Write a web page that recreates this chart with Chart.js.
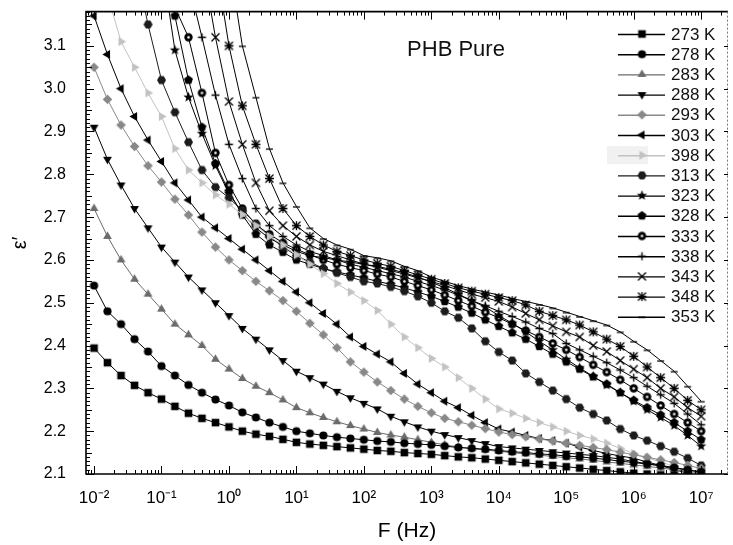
<!DOCTYPE html>
<html>
<head>
<meta charset="utf-8">
<script src="https://cdn.jsdelivr.net/npm/chart.js@4.4.1/dist/chart.umd.min.js"></script>
<style>
  body { margin: 0; background: #fff; }
  #wrap { width: 733px; height: 545px; }
</style>
</head>
<body>
<div id="wrap"><canvas id="eps-chart"></canvas></div>
<script>
// Frequencies (Hz), shared by every series.
const freqs = [
  0.01, 0.0158, 0.0251, 0.0398, 0.0631,
  0.1, 0.158, 0.251, 0.398, 0.631,
  1, 1.58, 2.51, 3.98, 6.31,
  10, 15.8, 25.1, 39.8, 63.1,
  100, 158, 251, 398, 631,
  1e3, 1580, 2510, 3980, 6310,
  1e4, 15800, 25100, 39800, 63100,
  1e5, 158000, 251000, 398000, 631000,
  1e6, 1.58e6, 2.51e6, 3.98e6, 6.31e6,
  1e7,
];

// Real permittivity per temperature.
const eps273 = [
  2.394, 2.36, 2.33, 2.307, 2.29, 2.275, 2.258, 2.242, 2.23, 2.22,
  2.21, 2.2, 2.193, 2.188, 2.181, 2.174, 2.17, 2.167, 2.164, 2.161,
  2.158, 2.155, 2.153, 2.15, 2.148, 2.146, 2.143, 2.14, 2.138, 2.135,
  2.132, 2.129, 2.126, 2.123, 2.12, 2.117, 2.114, 2.111, 2.108, 2.105,
  2.102, 2.1, 2.098, 2.097, 2.096, 2.095,
];
const eps278 = [
  2.54, 2.48, 2.45, 2.415, 2.386, 2.352, 2.33, 2.308, 2.29, 2.274,
  2.26, 2.244, 2.232, 2.22, 2.21, 2.2, 2.195, 2.19, 2.186, 2.183,
  2.18, 2.177, 2.175, 2.172, 2.17, 2.168, 2.165, 2.162, 2.16, 2.158,
  2.155, 2.152, 2.15, 2.147, 2.145, 2.142, 2.14, 2.137, 2.134, 2.13,
  2.127, 2.123, 2.12, 2.115, 2.11, 2.105,
];
const eps283 = [
  2.72, 2.655, 2.6, 2.555, 2.52, 2.485, 2.45, 2.425, 2.4, 2.368,
  2.345, 2.323, 2.305, 2.29, 2.273, 2.255, 2.243, 2.232, 2.222, 2.213,
  2.205, 2.197, 2.191, 2.186, 2.18, 2.174, 2.168, 2.163, 2.159, 2.156,
  2.153, 2.15, 2.147, 2.144, 2.141, 2.138, 2.135, 2.132, 2.128, 2.125,
  2.121, 2.118, 2.114, 2.11, 2.106, 2.102,
];
const eps288 = [
  2.91, 2.835, 2.775, 2.72, 2.675, 2.63, 2.595, 2.56, 2.53, 2.5,
  2.47, 2.44, 2.415, 2.39, 2.365, 2.34, 2.325, 2.31, 2.293, 2.278,
  2.265, 2.252, 2.235, 2.222, 2.21, 2.2, 2.192, 2.185, 2.178, 2.171,
  2.164, 2.161, 2.158, 2.155, 2.152, 2.149, 2.146, 2.143, 2.139, 2.135,
  2.129, 2.124, 2.119, 2.114, 2.109, 2.104,
];
const eps293 = [
  3.05, 2.975, 2.915, 2.865, 2.82, 2.782, 2.742, 2.705, 2.665, 2.63,
  2.6, 2.575, 2.55, 2.528, 2.505, 2.48, 2.452, 2.425, 2.395, 2.362,
  2.338, 2.315, 2.295, 2.275, 2.258, 2.243, 2.23, 2.222, 2.214, 2.206,
  2.198, 2.192, 2.187, 2.182, 2.177, 2.172, 2.167, 2.162, 2.157, 2.151,
  2.145, 2.139, 2.133, 2.127, 2.12, 2.113,
];
const eps303 = [
  3.17, 3.08, 3.0, 2.935, 2.88, 2.83, 2.78, 2.74, 2.7, 2.675,
  2.65, 2.625, 2.6, 2.575, 2.55, 2.525, 2.5, 2.475, 2.45, 2.42,
  2.398, 2.38, 2.362, 2.335, 2.31, 2.29, 2.27, 2.255, 2.237, 2.22,
  2.205, 2.198, 2.19, 2.183, 2.178, 2.172, 2.163, 2.155, 2.148, 2.142,
  2.137, 2.128, 2.12, 2.11, 2.102, 2.095,
];
const eps398 = [
  null, 3.22, 3.11, 3.05, 2.99, 2.935, 2.86, 2.81, 2.78, 2.752,
  2.73, 2.706, 2.68, 2.655, 2.635, 2.612, 2.59, 2.568, 2.545, 2.525,
  2.505, 2.482, 2.45, 2.42, 2.395, 2.37, 2.35, 2.325, 2.3, 2.275,
  2.252, 2.242, 2.23, 2.22, 2.21, 2.2, 2.19, 2.182, 2.172, 2.16,
  2.148, 2.138, 2.128, 2.118, 2.103, 2.092,
];
const eps313 = [
  null, null, null, 3.3, 3.15, 3.02, 2.945, 2.875, 2.81, 2.77,
  2.745, 2.715, 2.685, 2.655, 2.63, 2.61, 2.595, 2.58, 2.57, 2.56,
  2.55, 2.545, 2.537, 2.527, 2.515, 2.5, 2.48, 2.465, 2.44, 2.41,
  2.385, 2.365, 2.335, 2.315, 2.295, 2.275, 2.255, 2.24, 2.225, 2.205,
  2.19, 2.178, 2.165, 2.152, 2.137, 2.12,
];
const eps323 = [
  null, null, null, null, null, 3.3, 3.09, 2.98, 2.895, 2.82,
  2.755, 2.71, 2.675, 2.65, 2.635, 2.62, 2.61, 2.605, 2.6, 2.595,
  2.59, 2.585, 2.578, 2.57, 2.56, 2.548, 2.535, 2.52, 2.505, 2.49,
  2.47, 2.452, 2.432, 2.41, 2.39, 2.368, 2.348, 2.328, 2.308, 2.29,
  2.27, 2.25, 2.232, 2.213, 2.19, 2.165,
];
const eps328 = [
  null, null, null, null, null, 3.35, 3.17, 3.02, 2.91, 2.825,
  2.76, 2.705, 2.66, 2.635, 2.618, 2.6, 2.59, 2.58, 2.572, 2.565,
  2.558, 2.55, 2.543, 2.535, 2.525, 2.515, 2.503, 2.49, 2.476, 2.46,
  2.445, 2.43, 2.415, 2.398, 2.38, 2.362, 2.345, 2.327, 2.31, 2.29,
  2.272, 2.255, 2.238, 2.22, 2.2, 2.18,
];
const eps333 = [
  null, null, null, null, null, 3.4, 3.19, 3.12, 2.99, 2.85,
  2.775, 2.72, 2.682, 2.66, 2.64, 2.625, 2.612, 2.6, 2.59, 2.582,
  2.575, 2.567, 2.56, 2.55, 2.54, 2.53, 2.518, 2.505, 2.492, 2.478,
  2.465, 2.45, 2.435, 2.42, 2.405, 2.39, 2.373, 2.355, 2.338, 2.32,
  2.3, 2.28, 2.26, 2.24, 2.22, 2.2,
];
const eps338 = [
  null, null, null, null, null, null, 3.4, 3.25, 3.12, 2.985,
  2.87, 2.79, 2.72, 2.68, 2.655, 2.635, 2.62, 2.61, 2.6, 2.59,
  2.583, 2.575, 2.568, 2.56, 2.55, 2.54, 2.53, 2.518, 2.505, 2.493,
  2.48, 2.468, 2.455, 2.44, 2.428, 2.405, 2.39, 2.375, 2.36, 2.343,
  2.325, 2.305, 2.285, 2.265, 2.24, 2.215,
];
const eps343 = [
  null, null, null, null, null, null, null, 3.45, 3.3, 3.12,
  2.97, 2.87, 2.78, 2.715, 2.68, 2.655, 2.635, 2.62, 2.61, 2.6,
  2.59, 2.583, 2.575, 2.567, 2.558, 2.55, 2.54, 2.53, 2.52, 2.512,
  2.503, 2.49, 2.475, 2.46, 2.446, 2.432, 2.42, 2.4, 2.386, 2.365,
  2.345, 2.325, 2.3, 2.28, 2.255, 2.235,
];
const eps348 = [
  null, null, null, null, null, null, null, null, 3.45, 3.3,
  3.1, 2.96, 2.87, 2.79, 2.72, 2.68, 2.655, 2.635, 2.62, 2.61,
  2.6, 2.592, 2.585, 2.575, 2.565, 2.555, 2.545, 2.535, 2.527, 2.52,
  2.512, 2.505, 2.495, 2.48, 2.47, 2.46, 2.448, 2.432, 2.415, 2.398,
  2.375, 2.35, 2.325, 2.3, 2.272, 2.25,
];
const eps353 = [
  null, null, null, null, null, null, null, null, null, null,
  3.3, 3.1, 2.98, 2.86, 2.78, 2.725, 2.675, 2.65, 2.635, 2.625,
  2.61, 2.605, 2.598, 2.585, 2.575, 2.56, 2.55, 2.54, 2.532, 2.525,
  2.518, 2.51, 2.503, 2.496, 2.488, 2.478, 2.468, 2.458, 2.448, 2.432,
  2.41, 2.39, 2.365, 2.34, 2.305, 2.27,
];

// Axis ticks.
const xTicks = [1e-2, 1e-1, 1e0, 1e1, 1e2, 1e3, 1e4, 1e5, 1e6, 1e7];
const yTicks = [2.1, 2.2, 2.3, 2.4, 2.5, 2.6, 2.7, 2.8, 2.9, 3.0, 3.1];

const FONT = "'Liberation Sans', Arial, sans-serif";
Chart.defaults.font.family = FONT;
Chart.defaults.color = "#000";

// Small canvases used as point markers (and reused in the legend).
function makeMarker(shape, color) {
  const c = document.createElement("canvas");
  c.width = 13;
  c.height = 13;
  const g = c.getContext("2d");
  g.translate(6.5, 6.5);
  g.fillStyle = color;
  g.strokeStyle = color;
  g.lineWidth = 1.3;

  const poly = (n, r, rot, inner) => {
    g.beginPath();
    const steps = inner ? n * 2 : n;
    for (let i = 0; i < steps; i++) {
      const a = rot + (i * Math.PI * 2) / steps;
      const rr = inner && i % 2 ? inner : r;
      const px = Math.cos(a) * rr;
      const py = Math.sin(a) * rr;
      i ? g.lineTo(px, py) : g.moveTo(px, py);
    }
    g.closePath();
    g.fill();
  };
  const lines = segs => {
    g.beginPath();
    segs.forEach(s => {
      g.moveTo(s[0], s[1]);
      g.lineTo(s[2], s[3]);
    });
    g.stroke();
  };

  const up = -Math.PI / 2;
  switch (shape) {
    case "square": g.fillRect(-3.8, -3.8, 7.6, 7.6); break;
    case "circle": g.beginPath(); g.arc(0, 0, 4.1, 0, Math.PI * 2); g.fill(); break;
    case "triUp": poly(3, 5.1, up); break;
    case "triDown": poly(3, 5.1, -up); break;
    case "triLeft": poly(3, 5.1, Math.PI); break;
    case "triRight": poly(3, 5.1, 0); break;
    case "diamond": poly(4, 4.8, up); break;
    case "hexagon": poly(6, 4.5, 0); break;
    case "star": poly(5, 5.4, up, 2.3); break;
    case "pentagon": poly(5, 4.7, up); break;
    case "ringDot":
      g.beginPath(); g.arc(0, 0, 4.2, 0, Math.PI * 2); g.fill();
      g.fillStyle = "#fff";
      g.beginPath(); g.arc(0, 0, 1.3, 0, Math.PI * 2); g.fill();
      break;
    case "plus": lines([[-4, 0, 4, 0], [0, -4, 0, 4]]); break;
    case "cross": lines([[-4, -4, 4, 4], [-4, 4, 4, -4]]); break;
    case "asterisk": lines([[-4, -4, 4, 4], [-4, 4, 4, -4], [0, -4.5, 0, 4.5], [-4.5, 0, 4.5, 0]]); break;
    case "dash": lines([[-3.5, 0.5, 3.5, 0.5]]); break;
  }
  return c;
}

// Series: label, values, colour, marker.
const series = [
  ["273 K", eps273, "#000", "square"],
  ["278 K", eps278, "#000", "circle"],
  ["283 K", eps283, "#6b6b6b", "triUp"],
  ["288 K", eps288, "#000", "triDown"],
  ["293 K", eps293, "#888", "diamond"],
  ["303 K", eps303, "#000", "triLeft"],
  ["398 K", eps398, "#c2c2c2", "triRight"],
  ["313 K", eps313, "#1c1c1c", "hexagon"],
  ["323 K", eps323, "#000", "star"],
  ["328 K", eps328, "#000", "pentagon"],
  ["333 K", eps333, "#000", "ringDot"],
  ["338 K", eps338, "#000", "plus"],
  ["343 K", eps343, "#000", "cross"],
  ["348 K", eps348, "#000", "asterisk"],
  ["353 K", eps353, "#000", "dash"],
];

const datasets = series.map(([label, values, color, shape]) => ({
  label: label,
  data: values.map((v, i) => ({ x: freqs[i], y: v })),
  borderColor: color,
  backgroundColor: color,
  borderWidth: 1,
  pointStyle: makeMarker(shape, color),
  pointRadius: 4,
  tension: 0,
}));

const SUP = { "-": "⁻", "0": "⁰", "1": "¹", "2": "²", "3": "³", "4": "⁴", "5": "⁵", "6": "⁶", "7": "⁷" };

// Frame, inward ticks, title text and legend.
const framePlugin = {
  id: "frame",
  afterDatasetsDraw(chart) {
    const { ctx, chartArea: a, scales } = chart;
    const xs = scales.x;
    const ys = scales.y;
    ctx.save();
    ctx.strokeStyle = "#000";
    ctx.lineWidth = 1.6;
    ctx.beginPath();
    ctx.moveTo(a.right, a.top);
    ctx.lineTo(a.left, a.top);
    ctx.lineTo(a.left, a.bottom);
    ctx.lineTo(a.right, a.bottom);
    ctx.stroke();

    ctx.lineWidth = 1;
    ctx.setLineDash([2, 2]);
    ctx.strokeStyle = "#777";
    ctx.beginPath();
    ctx.moveTo(a.right - 0.5, a.top);
    ctx.lineTo(a.right - 0.5, a.bottom);
    ctx.stroke();
    ctx.setLineDash([]);

    // x ticks (bottom and top, pointing inward)
    ctx.strokeStyle = "#000";
    ctx.lineWidth = 1;
    ctx.beginPath();
    for (let d = -3; d <= 7; d++) {
      for (let m = 1; m <= 9; m++) {
        const v = m * Math.pow(10, d);
        if (v < xs.min || v > xs.max) continue;
        const px = Math.round(xs.getPixelForValue(v)) + 0.5;
        const len = m === 1 ? 8 : 4;
        ctx.moveTo(px, a.bottom);
        ctx.lineTo(px, a.bottom - len);
        ctx.moveTo(px, a.top);
        ctx.lineTo(px, a.top + len);
      }
    }
    // y ticks
    for (let i = 0; i <= 108; i++) {
      const v = 2.1 + i * 0.01;
      const py = Math.round(ys.getPixelForValue(v)) + 0.5;
      const len = i % 10 === 0 ? 8 : i % 5 === 0 ? 6 : 4;
      ctx.moveTo(a.left, py);
      ctx.lineTo(a.left + len, py);
      if (i % 10 === 0) {
        ctx.moveTo(a.right, py);
        ctx.lineTo(a.right - 4, py);
      }
    }
    ctx.stroke();
    ctx.restore();
  },
  afterDraw(chart) {
    const { ctx } = chart;
    ctx.save();
    ctx.fillStyle = "#111";
    ctx.font = "22px " + FONT;
    ctx.textAlign = "center";
    ctx.textBaseline = "middle";
    ctx.fillText("PHB Pure", 456, 50);

    // legend
    ctx.font = "17px " + FONT;
    ctx.textAlign = "left";
    chart.data.datasets.forEach((ds, i) => {
      const y = 34 + i * 20.2;
      if (ds.label === "398 K") {
        ctx.fillStyle = "#f1f1f1";
        ctx.fillRect(607, y - 9, 41, 18);
      }
      ctx.strokeStyle = ds.borderColor;
      ctx.lineWidth = 1.4;
      ctx.beginPath();
      ctx.moveTo(618, y + 0.5);
      ctx.lineTo(665, y + 0.5);
      ctx.stroke();
      const img = ds.pointStyle;
      ctx.drawImage(img, 642 - img.width / 2, y - img.height / 2);
      ctx.fillStyle = "#111";
      ctx.fillText(ds.label, 671, y + 1);
    });
    ctx.restore();
  },
};

const ctx = document.getElementById("eps-chart").getContext("2d");
new Chart(ctx, {
  type: "line",
  data: { datasets: datasets },
  plugins: [framePlugin],
  options: {
    responsive: true,
    maintainAspectRatio: false,
    animation: false,
    layout: { padding: { top: 8, right: 3, left: 0, bottom: 0 } },
    plugins: {
      legend: { display: false },
      tooltip: { enabled: false },
    },
    scales: {
      x: {
        type: "logarithmic",
        min: 0.0076,
        max: 2.5e7,
        grid: { display: false, drawTicks: true, tickLength: 12 },
        border: { display: false },
        afterBuildTicks: s => { s.ticks = xTicks.map(v => ({ value: v })); },
        afterFit: s => { s.height = 71; },
        ticks: {
          autoSkip: false,
          maxRotation: 0,
          padding: 2,
          font: { size: 17 },
          color: "#000",
          callback: v => "10" + String(Math.round(Math.log10(v))).split("").map(c => SUP[c]).join(""),
        },
        title: {
          display: true,
          text: "F (Hz)",
          font: { size: 21 },
          color: "#000",
          padding: { top: 0, bottom: 1 },
        },
      },
      y: {
        min: 2.1,
        max: 3.18,
        grid: { display: false, drawTicks: true, tickLength: 18 },
        border: { display: false },
        afterBuildTicks: s => { s.ticks = yTicks.map(v => ({ value: v })); },
        afterFit: s => { s.width = 86; },
        ticks: {
          padding: 2,
          font: { size: 16 },
          color: "#000",
          callback: v => v.toFixed(1),
        },
        title: {
          display: true,
          text: "ε′",
          font: { size: 20 },
          color: "#000",
          padding: { top: 8, bottom: 0 },
        },
      },
    },
  },
});
</script>
</body>
</html>
